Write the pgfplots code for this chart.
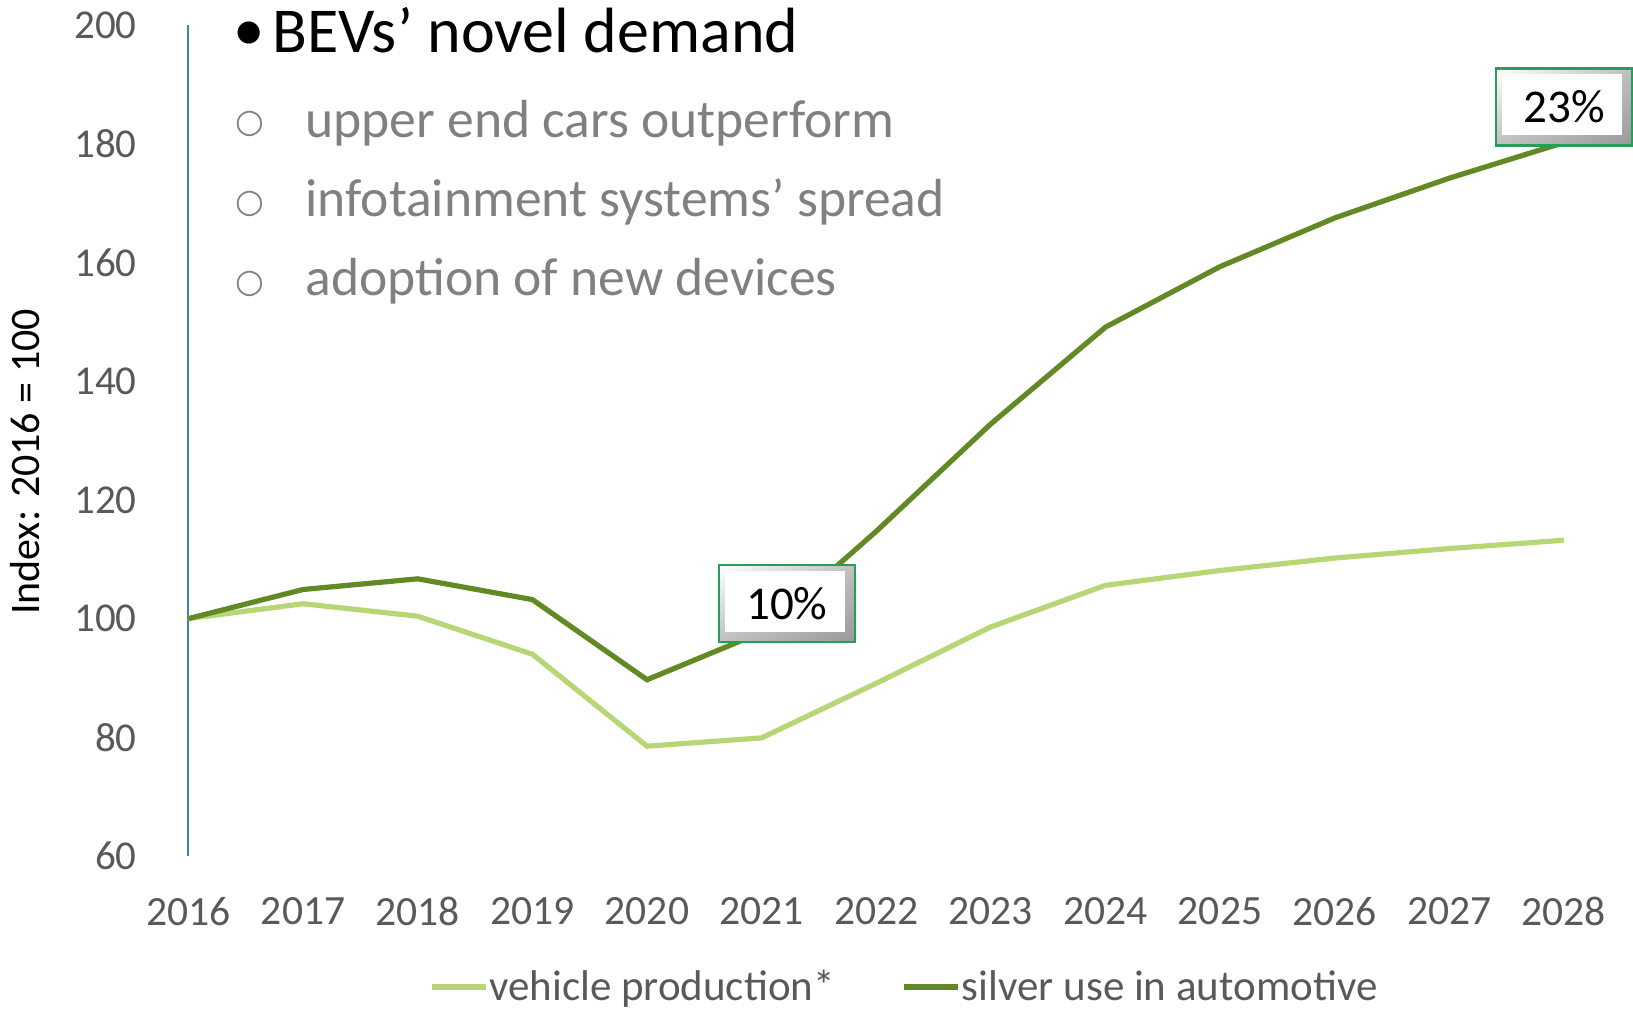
\documentclass[border=0pt]{standalone}
\usepackage{fontspec}
\setmainfont{Carlito}
\newfontfamily\dejavu{DejaVu Sans}
\usepackage{pgfplots}
\pgfplotsset{compat=1.18}
\usetikzlibrary{calc,shadings}
\definecolor{lightgreen}{RGB}{183,215,118}
\definecolor{darkgreen}{RGB}{99,137,36}
\definecolor{axisblue}{RGB}{52,140,168}
\definecolor{boxgreen}{RGB}{38,158,88}
\definecolor{ticktext}{RGB}{89,89,89}
\definecolor{subtext}{RGB}{128,128,128}
\tikzset{bevelbox/.style={draw=boxgreen, line width=1.2pt, minimum width=68pt, minimum height=38.5pt, inner sep=0pt,
  font=\fontsize{23.5}{27}\selectfont, text=black,
  path picture={
    \shade[upper left=white, upper right=gray!50, lower left=gray!50, lower right=gray!80]
      (path picture bounding box.south west) rectangle (path picture bounding box.north east);
    \fill[white] ([shift={(3pt,5pt)}]path picture bounding box.south west) rectangle ([shift={(-5pt,-3pt)}]path picture bounding box.north east);
  }}}
\begin{document}
\begin{tikzpicture}
\useasboundingbox (-94.25pt,-76.5pt) rectangle (722.25pt,428pt);
\begin{axis}[
  at={(0,0)}, anchor=south west,
  scale only axis, width=687.75pt, height=415.5pt,
  xmin=2016, xmax=2028, ymin=60, ymax=200,
  clip=false,
  axis lines=left,
  x axis line style={draw=none},
  y axis line style={-, draw=axisblue, line width=1pt},
  major tick length=0pt,
  xtick={2016,2017,...,2028},
  ytick={60,80,...,200},
  /pgf/number format/assume math mode=true,
  /pgf/number format/1000 sep={},
  xticklabel style={anchor=center, inner sep=0pt, yshift=-27.75pt, text=ticktext, font=\fontsize{20.8}{24}\selectfont},
  yticklabel style={anchor=east, inner sep=0pt, xshift=-25.75pt, text=ticktext, font=\fontsize{20.5}{24}\selectfont},
  ylabel={Index: 2016 = 100},
  every axis y label/.style={at={(axis description cs:-0.11887,0.47413)}, rotate=90, anchor=center, font=\fontsize{21}{24}\selectfont, text=black},
  legend columns=2,
  legend style={at={(axis description cs:0.5200,-0.1576)}, anchor=center, draw=none, fill=none,
    font=\fontsize{21.5}{25}\selectfont, text=ticktext, inner sep=0pt,
    nodes={inner xsep=0.5pt, inner ysep=1.5pt},
    /tikz/every even column/.append style={column sep=33pt}},
  legend image code/.code={\draw[#1] (0pt,0pt) -- (27pt,0pt);},
]
\addplot[lightgreen, line width=2.6pt] coordinates {
  (2016,100) (2017,102.5) (2018,100.4) (2019,94.0) (2020,78.5) (2021,79.9) (2022,89.1)
  (2023,98.6) (2024,105.6) (2025,108.1) (2026,110.2) (2027,111.8) (2028,113.2)};
\addlegendentry{vehicle production*}
\addplot[darkgreen, line width=2.6pt] coordinates {
  (2016,100) (2017,104.9) (2018,106.7) (2019,103.2) (2020,89.7) (2021,97.7) (2022,114.7)
  (2023,132.8) (2024,149.1) (2025,159.3) (2026,167.5) (2027,174.2) (2028,180.2)};
\addlegendentry{silver use in automotive}

\node[bevelbox] at (axis cs:2021.22,102.5) {10\%};
\node[bevelbox] at (axis cs:2028.0,186.2) {23\%};

\node[anchor=center, inner sep=0pt, font=\dejavu\fontsize{14.5}{16}\selectfont] at ([shift={(30.25pt,411.5pt)}]rel axis cs:0,0) {●};
\node[anchor=base west, inner sep=0pt, font=\fontsize{32}{37}\selectfont] at ([shift={(41.75pt,402pt)}]rel axis cs:0,0) {BEVs’ novel demand};

\node[anchor=center, inner sep=0pt, text=subtext, font=\dejavu\fontsize{16.5}{18}\selectfont] at ([shift={(30.5pt,366pt)}]rel axis cs:0,0) {○};
\node[anchor=center, inner sep=0pt, text=subtext, font=\dejavu\fontsize{16.5}{18}\selectfont] at ([shift={(30.5pt,326pt)}]rel axis cs:0,0) {○};
\node[anchor=center, inner sep=0pt, text=subtext, font=\dejavu\fontsize{16.5}{18}\selectfont] at ([shift={(30.5pt,286pt)}]rel axis cs:0,0) {○};
\node[anchor=base west, inner sep=0pt, text=subtext, font=\fontsize{26.8}{32}\selectfont] at ([shift={(58.25pt,359.5pt)}]rel axis cs:0,0) {upper end cars outperform};
\node[anchor=base west, inner sep=0pt, text=subtext, font=\fontsize{26.8}{32}\selectfont] at ([shift={(58.25pt,320pt)}]rel axis cs:0,0) {infotainment systems’ spread};
\node[anchor=base west, inner sep=0pt, text=subtext, font=\fontsize{26.8}{32}\selectfont] at ([shift={(58.25pt,280.5pt)}]rel axis cs:0,0) {adoption of new devices};
\end{axis}
\end{tikzpicture}
\end{document}
